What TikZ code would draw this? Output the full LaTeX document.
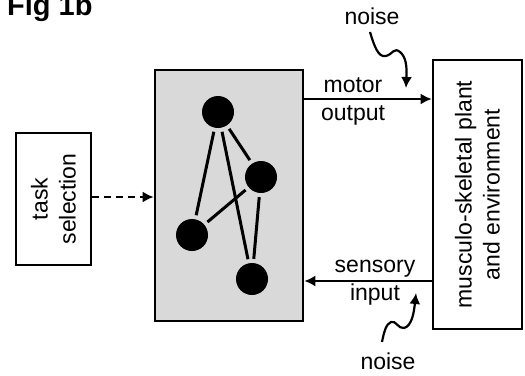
\documentclass[tikz,border=0pt]{standalone}
\usepackage{fontspec}
\setmainfont{Liberation Sans}
\usetikzlibrary{arrows.meta}
\begin{document}
\begin{tikzpicture}[x=1pt,y=-1pt,
  lbl/.style={font=\fontsize{23}{28}\selectfont, align=center, inner sep=0pt},
  box/.style={draw, line width=2.6pt},
  conn/.style={line width=2.2pt},
  arr/.style={conn, -{Latex[length=11pt,width=11pt]}},
  neuron/.style={circle, fill=black, minimum size=32pt, inner sep=0pt},
  syn/.style={line width=3pt, shorten >=4pt, shorten <=4pt}]
\useasboundingbox (0,0) rectangle (525,375);
% title
\node[anchor=base west, inner sep=0pt, font=\fontsize{29}{30}\selectfont\bfseries] (title) at (7,15) {Fig 1b};
% boxes
\node[box, minimum width=75pt, minimum height=132pt, inner sep=0pt] (task) at (53.5,199) {};
\node[lbl, rotate=90] (tasktxt) at (task.center) {task\\selection};
\node[box, fill=black!15, minimum width=148pt, minimum height=251pt, inner sep=0pt] (net) at (229,195.5) {};
\node[box, minimum width=89pt, minimum height=269pt, inner sep=0pt] (plant) at (477.5,194.5) {};
\node[lbl, rotate=90] (planttxt) at (plant.center) {musculo-skeletal plant\\and environment};
% neurons
\node[neuron] (n1) at (218,112) {};
\node[neuron] (n2) at (261,177) {};
\node[neuron] (n3) at (192,235) {};
\node[neuron] (n4) at (252,279) {};
\draw[syn] (n1) -- (n3);
\draw[syn] (n1) -- (n4);
\draw[syn] (n1) -- (n2);
\draw[syn] (n2) -- (n3);
\draw[syn] (n2) -- (n4);
% connectors
\draw[arr, dash pattern=on 7pt off 5pt] (task.east |- 0,197) -- (net.west |- 0,197);
\coordinate (mo1) at (net.east |- 0,99);
\coordinate (mo2) at (plant.west |- 0,99);
\draw[arr] (mo1) -- (mo2);
\node[lbl, anchor=base] (motor) at (353,92) {motor};
\node[lbl, anchor=base] (output) at (353,120) {output};
\coordinate (si1) at (plant.west |- 0,281);
\coordinate (si2) at (net.east |- 0,281);
\draw[arr] (si1) -- (si2);
\node[lbl, anchor=base] (sensory) at (375,272) {sensory};
\node[lbl, anchor=base] (input) at (375,300) {input};
% noise
\node[lbl, anchor=base] (noise1) at (372,24) {noise};
\coordinate (nz1a) at (370,32);
\coordinate (nz1b) at (406,88);
\draw[arr] (nz1a) .. controls (374,45) and (378,58) .. (386,56)
  .. controls (393,54) and (394,47) .. (400,52)
  .. controls (406,57) and (407,66) .. (nz1b);
\node[lbl, anchor=base] (noise2) at (388,369) {noise};
\coordinate (nz2a) at (382,342);
\coordinate (nz2b) at (416,293);
\draw[arr] (nz2a) .. controls (384,332) and (386,324) .. (391,322)
  .. controls (396,320) and (398,329) .. (404,328)
  .. controls (412,326) and (414,312) .. (nz2b);
\end{tikzpicture}
\end{document}
